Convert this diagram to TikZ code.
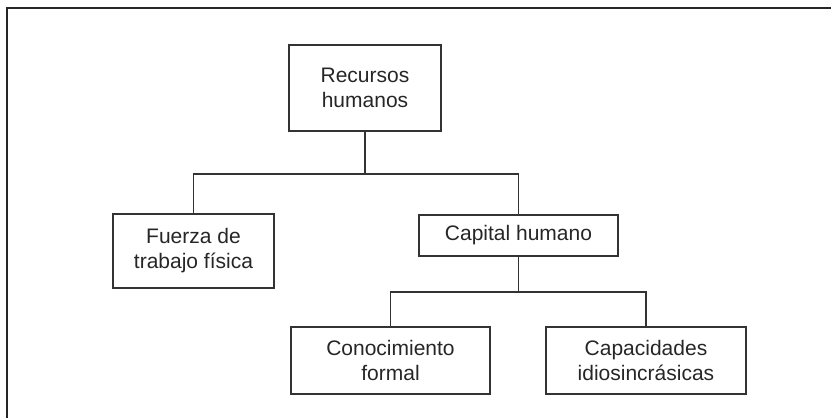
\documentclass[tikz,border=0pt]{standalone}
\usepackage{fontspec}
\setmainfont{Liberation Sans}
\begin{document}
\begin{tikzpicture}[x=1pt,y=-1pt,
    caja/.style={draw=black!80, line width=1.1pt, text=black!85, align=center,
        inner sep=0pt, font=\fontsize{21}{25}\selectfont},
    linea/.style={draw=black!80, line width=1.1pt}]
    \useasboundingbox (0,0) rectangle (831,418);
    \draw[line width=2pt, black!85] (7,418) -- (7,8) -- (831,8);

    \node[caja, minimum width=152pt, minimum height=86pt] (rh) at (365,88) {Recursos\\humanos};
    \node[caja, minimum width=161pt, minimum height=74pt] (ftf) at (193.5,251) {Fuerza de\\trabajo física};
    \node[caja, minimum width=199pt, minimum height=41pt] (ch) at (518.5,235.5) {Capital humano};
    \node[caja, minimum width=199pt, minimum height=67pt] (cf) at (390.5,360.5) {Conocimiento\\formal};
    \node[caja, minimum width=200pt, minimum height=67pt] (ci) at (646,360.5) {Capacidades\\idiosincrásicas};

    \coordinate (bus1) at (365,174);
    \coordinate (bus2) at (518.5,292);
    \draw[linea] (rh.south) -- (bus1) -| (ftf.north);
    \draw[linea] (bus1) -| (ch.north);
    \draw[linea] (ch.south) -- (bus2) -| (cf.north);
    \draw[linea] (bus2) -| (ci.north);
\end{tikzpicture}
\end{document}
